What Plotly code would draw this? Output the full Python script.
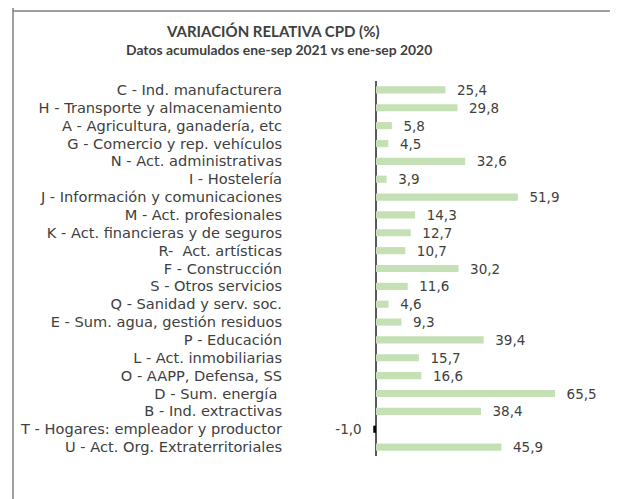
import plotly.graph_objects as go

categories = [
    "C - Ind. manufacturera",
    "H - Transporte y almacenamiento",
    "A - Agricultura, ganadería, etc",
    "G - Comercio y rep. vehículos",
    "N - Act. administrativas",
    "I - Hostelería",
    "J - Información y comunicaciones",
    "M - Act. profesionales",
    "K - Act. financieras y de seguros",
    "R-  Act. artísticas",
    "F - Construcción",
    "S - Otros servicios",
    "Q - Sanidad y serv. soc.",
    "E - Sum. agua, gestión residuos",
    "P - Educación",
    "L - Act. inmobiliarias",
    "O - AAPP, Defensa, SS",
    "D - Sum. energía ",
    "B - Ind. extractivas",
    "T - Hogares: empleador y productor",
    "U - Act. Org. Extraterritoriales",
]
values = [25.4, 29.8, 5.8, 4.5, 32.6, 3.9, 51.9, 14.3, 12.7, 10.7, 30.2,
          11.6, 4.6, 9.3, 39.4, 15.7, 16.6, 65.5, 38.4, -1.0, 45.9]

title = "<b>VARIACIÓN RELATIVA CPD (%)</b>"
subtitle = "<b>Datos acumulados ene-sep 2021 vs ene-sep 2020</b>"

LFONT = "DejaVu Sans"
TFONT = "Lato"
OFF = 8  # page body margin
W, H = 618 - OFF, 499 - OFF
colors = ["#C5E0B4" if v >= 0 else "#000000" for v in values]
texts = []
for v in values:
    s = f"{v:.1f}".replace(".", ",")
    texts.append("\u00a0\u00a0" + s if v >= 0 else s + "\u00a0\u00a0")

fig = go.Figure(go.Bar(
    x=values, y=categories, orientation="h",
    marker=dict(color=colors, line=dict(width=0)),
    text=texts, textposition="outside", cliponaxis=False,
    constraintext="none",
    textfont=dict(family=LFONT, size=13.5, color="#404040"),
))

# reference pixel coords
L, R, AX = 290, 600, 376
TOP, BOT = 81, 456
SC = 2.733
fig.update_layout(
    width=W, height=H,
    margin=dict(l=L - OFF, r=618 - R, t=TOP - OFF, b=499 - BOT, pad=0),
    paper_bgcolor="white", plot_bgcolor="white",
    separators=",.",
    bargap=0.6,
    showlegend=False,
    font=dict(family=LFONT, color="#404040"),
    xaxis=dict(range=[-(AX - L) / SC, (R - AX) / SC], showgrid=False,
               showticklabels=False, zeroline=True, zerolinecolor="#595959",
               zerolinewidth=1.5, showline=False, ticks="", fixedrange=True),
    yaxis=dict(autorange="reversed", showgrid=False, showline=False, ticks="",
               tickmode="linear", tick0=0, dtick=1,
               tickfont=dict(family=LFONT, size=14.6, color="#404040"),
               ticklabelstandoff=7, automargin=False),
)

def px2x(px):
    return (px - L) / (R - L)

def py2y(py):
    return (BOT - py) / (BOT - TOP)

fig.add_annotation(x=px2x(273), y=py2y(31), xref="paper", yref="paper",
                   text=title, showarrow=False, xanchor="center", yanchor="middle",
                   font=dict(family=TFONT, size=15, color="#404040"))
fig.add_annotation(x=px2x(279), y=py2y(49), xref="paper", yref="paper",
                   text=subtitle, showarrow=False, xanchor="center", yanchor="middle",
                   font=dict(family=TFONT, size=13.9, color="#404040"))

line = dict(color="#7F7F7F", width=1.5)
fig.add_shape(type="line", xref="paper", yref="paper",
              x0=px2x(13), x1=px2x(618), y0=py2y(11), y1=py2y(11), line=line)
fig.add_shape(type="line", xref="paper", yref="paper",
              x0=px2x(13), x1=px2x(13), y0=py2y(0), y1=py2y(499), line=line)

fig.write_html("out.html")
